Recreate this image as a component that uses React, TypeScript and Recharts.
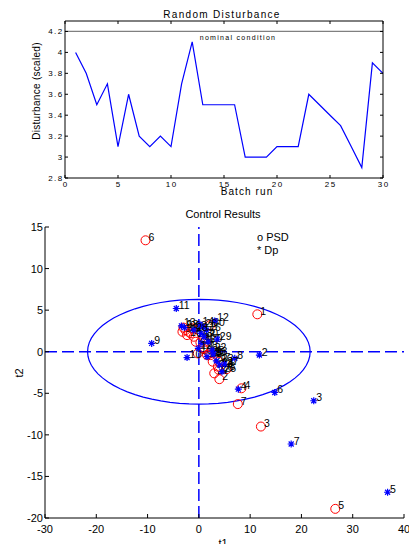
import React from "react";
import { Line, LineChart, ReferenceLine, Scatter, ScatterChart, XAxis, YAxis } from "recharts";

// top panel: random disturbance per batch run
const batchRuns = [1, 2, 3, 4, 5, 6, 7, 8, 9, 10, 11, 12, 13, 14, 15, 16, 17, 18, 19, 20, 21, 22, 23, 24, 25, 26, 27, 28, 29, 30];
const disturbance = [4.0, 3.8, 3.5, 3.7, 3.1, 3.6, 3.2, 3.1, 3.2, 3.1, 3.7, 4.1, 3.5, 3.5, 3.5, 3.5, 3.0, 3.0, 3.0, 3.1, 3.1, 3.1, 3.6, 3.5, 3.4, 3.3, 3.1, 2.9, 3.9, 3.8];
const runTicks = [0, 5, 10, 15, 20, 25, 30];
const disturbanceTicks = [2.8, 3, 3.2, 3.4, 3.6, 3.8, 4, 4.2];
const nominalCondition = 4.2;

// bottom panel: scores t1/t2 per batch
const psdBatch = [1, 2, 3, 4, 5, 6, 7, 8, 9, 10, 11, 12, 13, 14, 15, 16, 17, 18, 19, 20, 21, 22, 23, 24, 25, 26, 27, 28, 29, 30];
const psdT1 = [11.4, 4.0, 12.1, 8.3, 26.6, -10.4, 7.6, 5.4, -3.0, -0.2, -2.6, -2.0, -1.6, -1.0, -2.3, 0.3, 1.3, -3.2, 1.6, 2.3, 2.7, 3.7, 3.9, -0.6, 2.0, 3.9, 3.0, 0.8, -1.3, 2.2];
const psdT2 = [4.5, -3.3, -9.0, -4.4, -18.9, 13.4, -6.3, -2.1, 2.9, -0.2, 2.6, 2.4, 2.2, 1.8, 2.0, 1.1, 1.2, 2.4, -0.4, -0.4, -1.2, -1.8, -1.2, 1.2, -0.2, -2.2, -2.6, 0.4, 2.8, 3.2];

const dpBatch = [1, 2, 3, 4, 5, 6, 7, 8, 9, 10, 11, 12, 13, 14, 15, 16, 17, 18, 19, 20, 21, 22, 23, 24, 25, 26, 27, 28, 29, 30];
const dpT1 = [0.6, 11.8, 22.4, 7.7, 36.8, 14.8, 18.0, 7.0, -9.2, -2.3, -4.4, 3.1, -3.4, 0.2, 0.4, 1.5, 3.4, -2.8, -0.1, 1.8, 1.6, 2.6, 2.8, 4.0, 4.5, 0.8, 5.0, -1.0, 3.6, 1.0];
const dpT2 = [1.0, -0.4, -5.9, -4.5, -16.9, -4.9, -11.1, -0.8, 1.0, -0.7, 5.2, 3.7, 3.1, 3.3, 2.2, 2.6, -1.1, 2.9, 0.4, 1.2, -0.6, 0.2, -0.3, -1.6, -2.4, 3.0, -1.5, 2.6, 1.5, 1.8];

const t1Ticks = [-30, -20, -10, 0, 10, 20, 30, 40];
const t2Ticks = [-20, -15, -10, -5, 0, 5, 10, 15];

// control limit ellipse (radii)
const ellipseT1Radius = 21.7;
const ellipseT2Radius = 6.3;

const topData = batchRuns.map((run, i) => ({ run, d: disturbance[i] }));
const psdPoints = psdBatch.map((n, i) => ({ n, x: psdT1[i], y: psdT2[i] }));
const dpPoints = dpBatch.map((n, i) => ({ n, x: dpT1[i], y: dpT2[i] }));
const ellipsePoints = Array.from({ length: 73 }, (_, i) => {
  const a = (i * 5 * Math.PI) / 180;
  return { x: ellipseT1Radius * Math.cos(a), y: ellipseT2Radius * Math.sin(a) };
});

const FONT = "'Liberation Sans', Arial, Helvetica, sans-serif";
const BLUE = "#0000ff";
const RED = "#ff0000";

const fmt = (v: number) => String(Number(v.toFixed(1)));

function Label({ x, y, text, size, spacing = 0, rotate = false, align = "center" }: any) {
  return (
    <div
      style={{
        position: "absolute",
        left: x,
        top: y,
        transform: `translate(${align === "left" ? "0" : "-50%"}, -50%)${rotate ? " rotate(-90deg)" : ""}`,
        fontSize: size,
        letterSpacing: spacing,
        lineHeight: 1,
        whiteSpace: "nowrap",
        color: "#000"
      }}
    >
      {text}
    </div>
  );
}

// inward tick marks, MATLAB style
const TopBottomTick = ({ x, y, payload }: any) => (
  <g>
    <line x1={x} y1={y} x2={x} y2={y - 3} stroke="#000" />
    <text x={x + 0.7} y={y + 8.5} textAnchor="middle" fontSize={8} letterSpacing={1.4} fill="#000" fontFamily={FONT}>
      {payload.value}
    </text>
  </g>
);
const TopLeftTick = ({ x, y, payload }: any) => (
  <g>
    <line x1={x} y1={y} x2={x + 3} y2={y} stroke="#000" />
    <text x={x - 1.5} y={y + 3} textAnchor="end" fontSize={8} letterSpacing={1.4} fill="#000" fontFamily={FONT}>
      {fmt(payload.value)}
    </text>
  </g>
);
const TopTopTick = ({ x, y }: any) => <line x1={x} y1={y} x2={x} y2={y + 3} stroke="#000" />;
const TopRightTick = ({ x, y }: any) => <line x1={x} y1={y} x2={x - 3} y2={y} stroke="#000" />;

const BottomXTick = ({ x, y, payload }: any) => (
  <g>
    <line x1={x} y1={y} x2={x} y2={y - 4} stroke="#000" />
    <text x={x} y={y + 14.5} textAnchor="middle" fontSize={11} fill="#000" fontFamily={FONT}>
      {payload.value}
    </text>
  </g>
);
const BottomYTick = ({ x, y, payload }: any) => (
  <g>
    <line x1={x} y1={y} x2={x + 4} y2={y} stroke="#000" />
    <text x={x - 2} y={y + 4} textAnchor="end" fontSize={11} fill="#000" fontFamily={FONT}>
      {payload.value}
    </text>
  </g>
);

const Circle = ({ cx, cy, payload }: any) => (
  <g>
    <circle cx={cx} cy={cy} r={4.5} fill="none" stroke={RED} strokeWidth={1} />
    <text x={cx + 3} y={cy + 0.5} fontSize={10.5} fill="#000" fontFamily={FONT}>
      {payload.n}
    </text>
  </g>
);

const Asterisk = ({ cx, cy, payload }: any) => {
  const r = 3.5;
  const d = 2.5;
  return (
    <g>
      <path
        d={`M${cx - r},${cy}H${cx + r}M${cx},${cy - r}V${cy + r}M${cx - d},${cy - d}L${cx + d},${cy + d}M${cx - d},${cy + d}L${cx + d},${cy - d}`}
        stroke={BLUE}
        strokeWidth={1.2}
      />
      <text x={cx + 2.5} y={cy + 0.5} fontSize={10.5} fill="#000" fontFamily={FONT}>
        {payload.n}
      </text>
    </g>
  );
};

export default function App() {
  return (
    <div style={{ position: "absolute", left: 0, top: 0, width: 409, height: 544, background: "#fff", fontFamily: FONT, overflow: "hidden" }}>
      <div style={{ position: "absolute", left: 0, top: 0 }}>
        <LineChart width={409} height={200} data={topData} margin={{ top: 0, right: 0, bottom: 0, left: 0 }}>
          <XAxis dataKey="run" type="number" domain={[0, 30]} ticks={runTicks} height={22} tickSize={0} tickMargin={0} tick={<TopBottomTick />} stroke="#000" interval={0} />
          <XAxis xAxisId="t" orientation="top" dataKey="run" type="number" domain={[0, 30]} ticks={runTicks} height={21} tickSize={0} tickMargin={0} tick={<TopTopTick />} stroke="#000" interval={0} />
          <YAxis type="number" domain={[2.8, 4.3]} ticks={disturbanceTicks} width={65} tickSize={0} tickMargin={0} tick={<TopLeftTick />} stroke="#000" interval={0} allowDataOverflow />
          <YAxis yAxisId="r" orientation="right" type="number" domain={[2.8, 4.3]} ticks={disturbanceTicks} width={26} tickSize={0} tickMargin={0} tick={<TopRightTick />} stroke="#000" interval={0} allowDataOverflow />
          <ReferenceLine
            y={nominalCondition}
            stroke="#808080"
            strokeWidth={1.2}
            label={(p: any) => (
              <text x={238} y={(p.viewBox?.y ?? 31) + 9} textAnchor="middle" fontSize={7} letterSpacing={1.3} fill="#000" fontFamily={FONT}>
                nominal condition
              </text>
            )}
          />
          <Line dataKey="d" stroke={BLUE} strokeWidth={1.2} dot={false} isAnimationActive={false} />
          <Line xAxisId="t" yAxisId="r" dataKey="d" stroke="none" dot={false} activeDot={false} isAnimationActive={false} />
        </LineChart>
      </div>
      <Label x={222} y={15} text="Random Disturbance" size={10} spacing={1.3} />
      <Label x={37} y={91} text="Disturbance (scaled)" size={10} spacing={0.3} rotate />
      <Label x={247} y={192} text="Batch run" size={10} spacing={1.1} />

      <div style={{ position: "absolute", left: 0, top: 200 }}>
        <ScatterChart width={409} height={344} margin={{ top: 27, right: 5, bottom: 0, left: 0 }}>
          <XAxis dataKey="x" type="number" domain={[-30, 40]} ticks={t1Ticks} height={26} tickSize={0} tickMargin={0} tick={<BottomXTick />} stroke="#000" interval={0} allowDataOverflow />
          <YAxis dataKey="y" type="number" domain={[-20, 15]} ticks={t2Ticks} width={45} tickSize={0} tickMargin={0} tick={<BottomYTick />} stroke="#000" interval={0} allowDataOverflow />
          <Scatter data={ellipsePoints} line={{ stroke: BLUE, strokeWidth: 1.2 }} shape={() => <g />} isAnimationActive={false} />
          <ReferenceLine y={0} stroke={BLUE} strokeWidth={1.5} strokeDasharray="12 5" />
          <ReferenceLine x={0} stroke={BLUE} strokeWidth={1.5} strokeDasharray="12 5" />
          <Scatter data={psdPoints} shape={<Circle />} isAnimationActive={false} />
          <Scatter data={dpPoints} shape={<Asterisk />} isAnimationActive={false} />
        </ScatterChart>
      </div>
      <Label x={223} y={214} text="Control Results" size={11} />
      <Label x={257} y={237} text="o PSD" size={11} align="left" />
      <Label x={257} y={250} text="* Dp" size={11} align="left" />
      <Label x={19} y={373} text="t2" size={11} rotate />
      <Label x={223} y={543} text="t1" size={11} />
    </div>
  );
}
